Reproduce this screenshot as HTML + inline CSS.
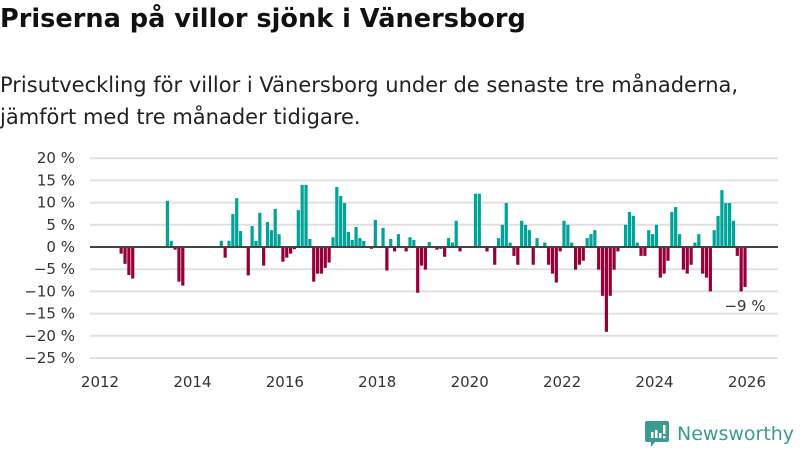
<!DOCTYPE html>
<html><head><meta charset="utf-8">
<style>
body{margin:0;width:800px;height:450px;background:#fff;font-family:"DejaVu Sans","Liberation Sans",sans-serif;overflow:hidden;position:relative;color:#222}
h1{position:absolute;left:0;top:4px;margin:0;font-size:25.6px;font-weight:bold;color:#111;white-space:nowrap}
.sub{position:absolute;left:0;top:69px;margin:0;font-size:21px;line-height:32px;color:#222;white-space:nowrap}
svg{position:absolute;left:0;top:0}
</style></head><body>
<h1>Priserna på villor sjönk i Vänersborg</h1>
<p class="sub">Prisutveckling för villor i Vänersborg under de senaste tre månaderna,<br>jämfört med tre månader tidigare.</p>
<svg id="chart" width="800" height="450" font-family="DejaVu Sans, Liberation Sans, sans-serif"></svg>
<script>
const startYear = 2012;
const yTicks = [20, 15, 10, 5, 0, -5, -10, -15, -20, -25];
const xTickYears = [2012, 2014, 2016, 2018, 2020, 2022, 2024, 2026];
const n = null;
const values = [
 n,n,n,n,n,-1.5,-3.8,-6.3,-7.1,n,n,n,
 n,n,n,n,n,10.4,1.4,-0.6,-7.8,-8.7,n,n,
 n,n,n,n,n,n,n,1.4,-2.4,1.4,7.4,11.0,
 3.6,n,-6.4,4.7,1.4,7.7,-4.2,5.6,3.8,8.6,2.9,-3.3,
 -2.4,-1.5,-0.5,8.3,14.0,14.0,1.8,-7.8,-6.0,-6.0,-4.7,-3.5,
 2.2,13.5,11.5,9.9,3.4,1.6,4.5,2.0,1.4,n,-0.4,6.1,
 n,4.3,-5.3,1.8,-1.0,2.9,n,-1.0,2.2,1.6,-10.3,-4.2,
 -5.1,1.1,n,-0.6,-0.4,-2.2,2.0,1.0,5.9,-1.0,n,n,
 n,12.0,12.0,n,-1.0,n,-4.0,2.0,5.0,9.9,1.0,-2.0,
 -4.0,5.9,5.0,3.8,-4.0,2.0,n,1.0,-4.0,-6.0,-8.0,-1.0,
 5.9,5.0,1.0,-5.1,-4.0,-3.1,2.0,2.9,3.8,-5.1,-11.0,-19.1,
 -11.0,-5.1,-1.0,n,5.0,7.9,7.0,1.0,-2.0,-2.0,3.8,2.9,
 5.0,-6.9,-6.0,-3.1,7.9,9.0,2.9,-5.1,-6.0,-4.0,1.0,2.9,
 -6.0,-6.9,-10.0,3.8,7.0,12.8,9.9,9.9,5.9,-2.0,-10.0,-9.0
];
const lastLabel = "−9 %";

const NS = "http://www.w3.org/2000/svg";
const svg = document.getElementById("chart");
const x0 = 100, pxPerYear = 46.21;
function xScale(monthIndex){ return x0 + monthIndex * pxPerYear / 12; }
const yZero = 247, pxPerPct = 4.44;
function yScale(v){ return yZero - v * pxPerPct; }
function mk(tag, attrs){ const e = document.createElementNS(NS, tag); for (const k in attrs) e.setAttribute(k, attrs[k]); svg.appendChild(e); return e; }

yTicks.forEach(t => {
  const y = yScale(t);
  if (t !== 0) {
    const g = mk("line", {x1: 90, x2: 778, y1: y, y2: y, stroke: "#e0e0e0", "stroke-width": 2});
    
    
  }
  const lb = mk("text", {x: 75, y: y + 5, "text-anchor": "end", "font-size": 15, fill: "#333"});
  lb.textContent = (t < 0 ? "−" + (-t) : t) + " %";
  
  
});
xTickYears.forEach(yr => {
  const x = xScale((yr - startYear) * 12);
  const lb = mk("text", {x: x, y: 387, "text-anchor": "middle", "font-size": 15, fill: "#333"});
  lb.textContent = yr;
  
  
});
values.forEach((v, i) => {
  if (v === null) return;
  const cx = xScale(i + 0.5);
  const y = Math.min(yScale(v), yZero), h = Math.abs(yScale(v) - yZero);
  const r = mk("rect", {x: cx - 1.6, y: y, width: 3.2, height: h, fill: v >= 0 ? "#00a398" : "#960039"});
  
  
});
const zl = mk("line", {x1: 90, x2: 778, y1: yZero, y2: yZero, stroke: "#444", "stroke-width": 2});


const li = values.length - 1;
const ann = mk("text", {x: xScale(li + 0.5), y: yScale(values[li]) + 24, "text-anchor": "middle", "font-size": 15, fill: "#333"});
ann.textContent = lastLabel;


</script>
<svg width="800" height="450" style="position:absolute;left:0;top:0">
  <path d="M647 421 h20 a2 2 0 0 1 2 2 v17 a2 2 0 0 1 -2 2 h-12 l-4 5 v-5 h-4 a2 2 0 0 1 -2 -2 v-17 a2 2 0 0 1 2 -2z" fill="#3a9b90"/>
  <rect x="651" y="432" width="2.5" height="6" fill="#fff"/>
  <rect x="655" y="430" width="2.5" height="8" fill="#fff"/>
  <rect x="659" y="433" width="2.5" height="5" fill="#fff"/>
  <rect x="663" y="425" width="2.5" height="9" fill="#fff"/>
  <rect x="663" y="436" width="2.5" height="2.5" fill="#fff"/>
  <text x="677" y="440" font-size="19" fill="#3a9b90" font-family="DejaVu Sans, Liberation Sans, sans-serif">Newsworthy</text>
</svg>
</body></html>
